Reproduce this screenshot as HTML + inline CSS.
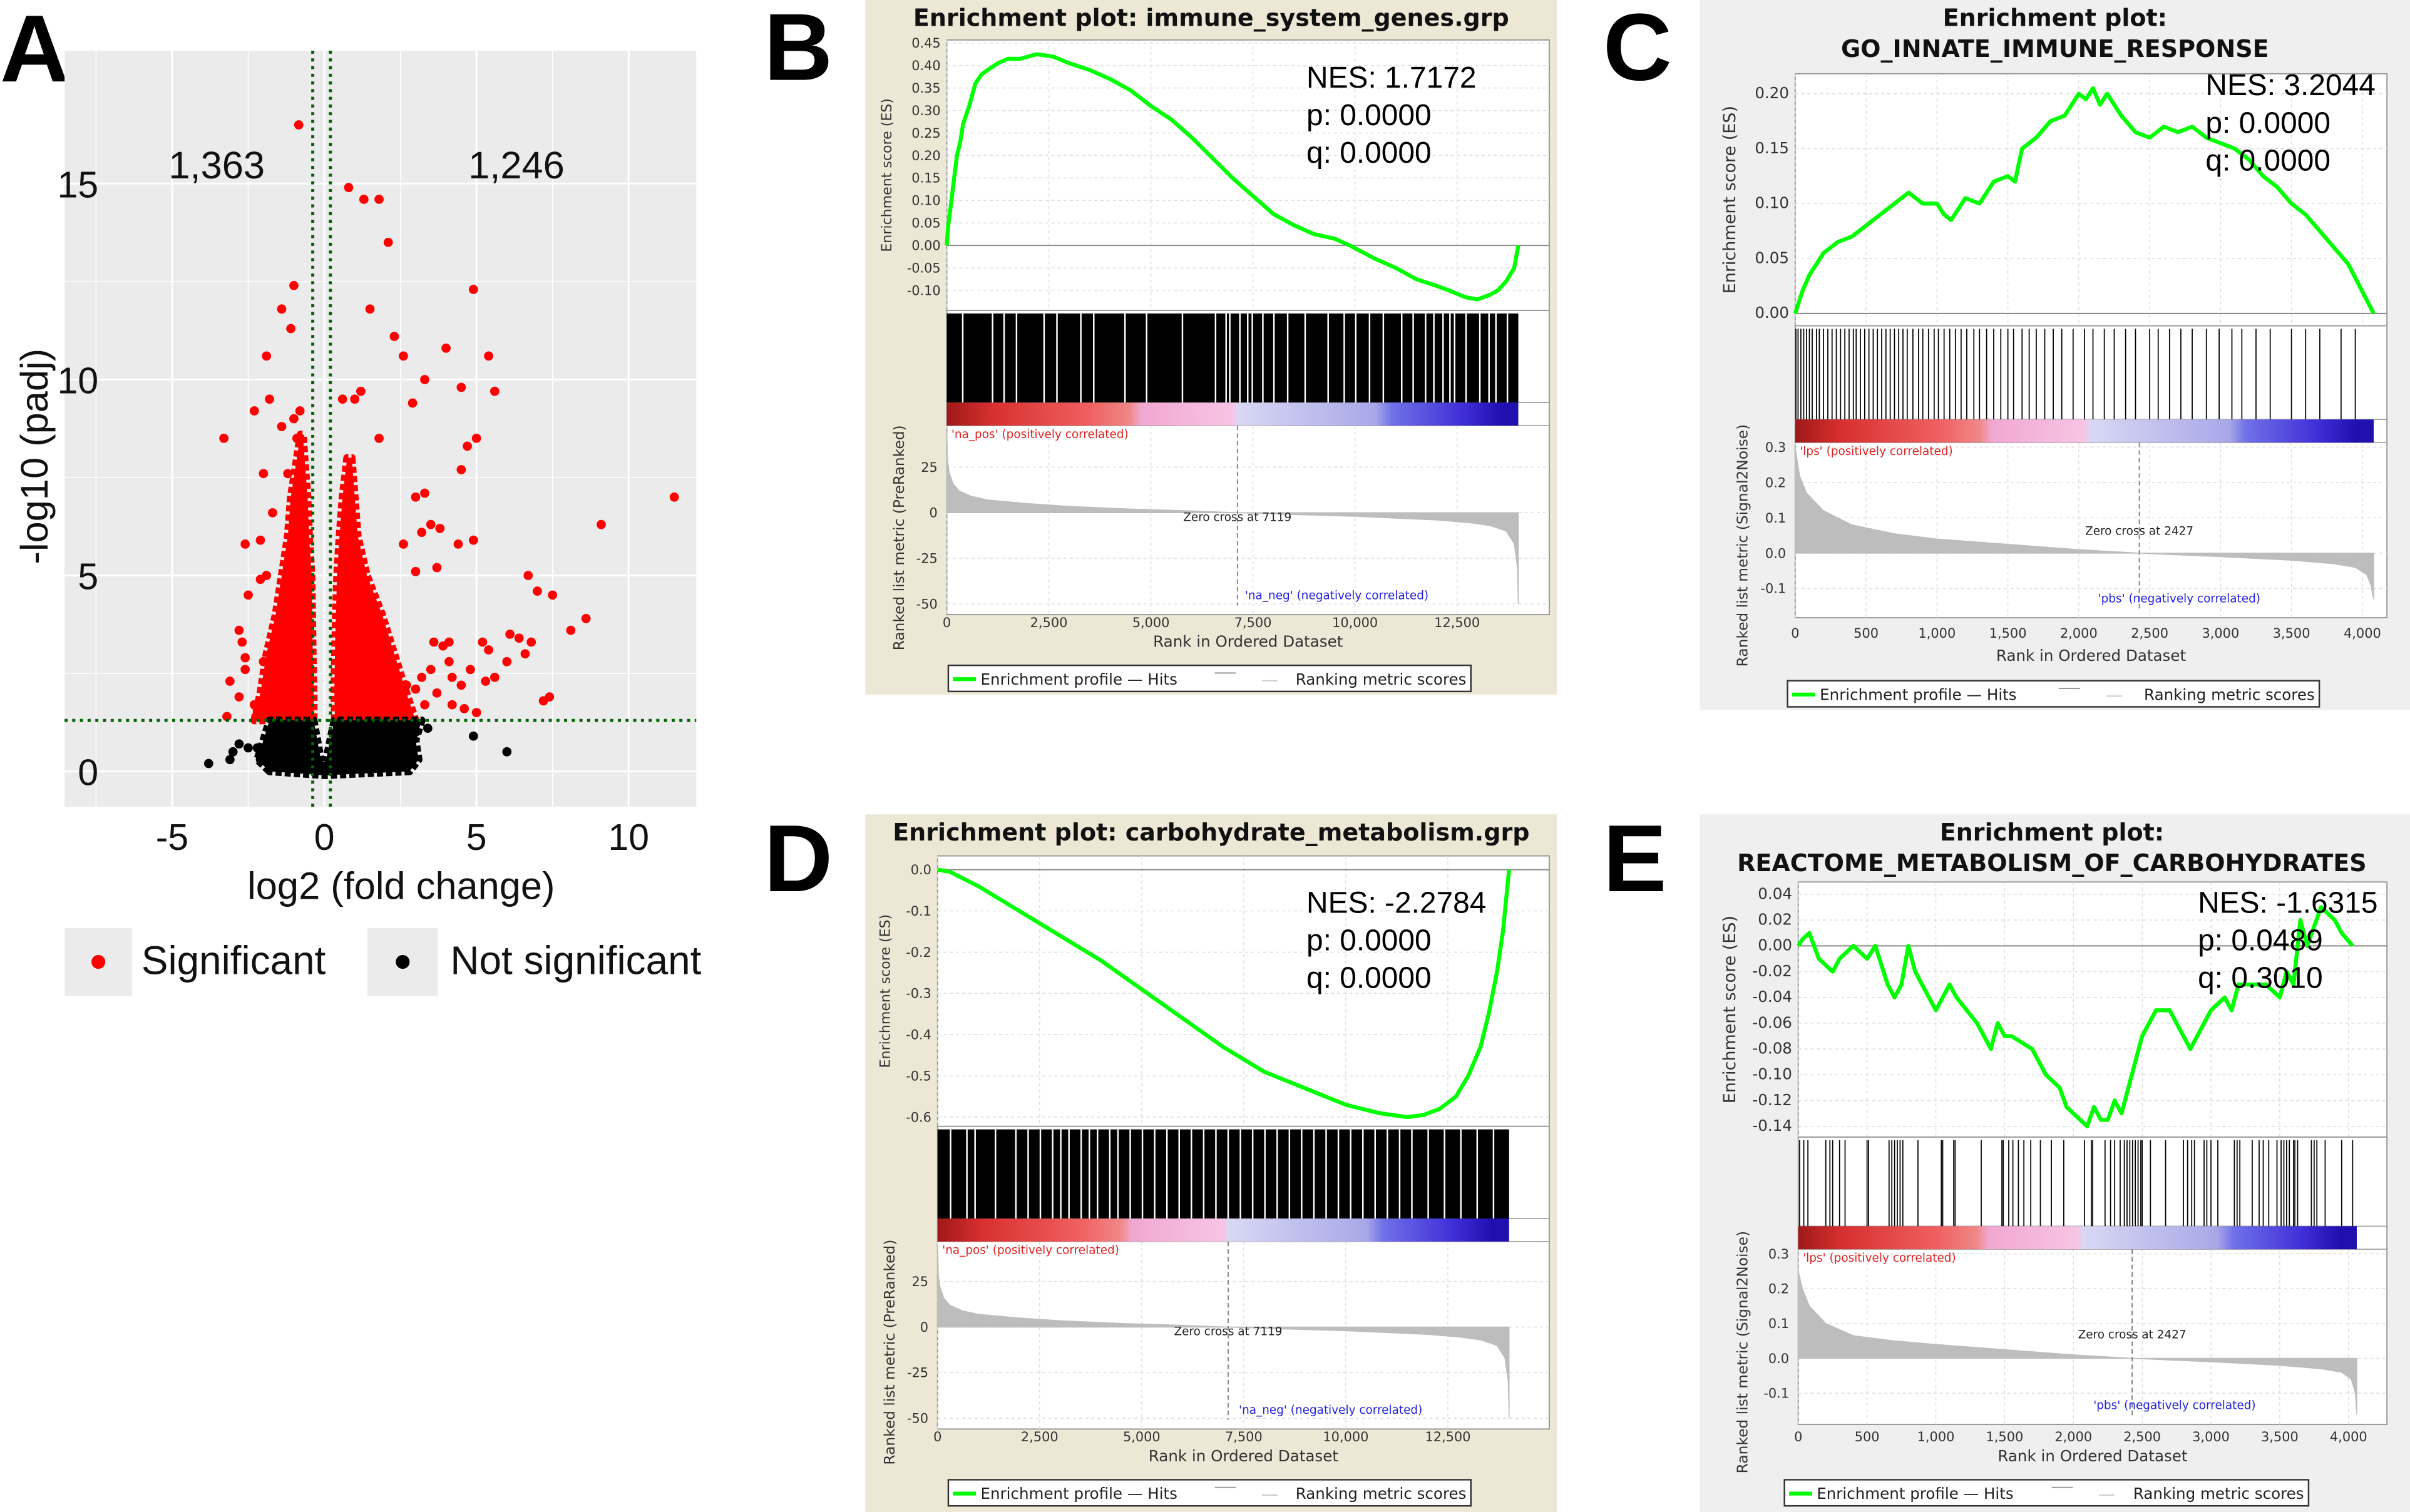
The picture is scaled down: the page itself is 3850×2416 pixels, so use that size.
<!DOCTYPE html>
<html><head><meta charset="utf-8"><style>
html,body{margin:0;padding:0;background:#fff;}
svg{display:block;}
</style></head><body>
<svg id="fig" xmlns="http://www.w3.org/2000/svg" width="3850" height="2416" viewBox="0 0 1568 984" preserveAspectRatio="none">
<defs>
<linearGradient id="cbar" x1="0" x2="1" y1="0" y2="0">
<stop offset="0" stop-color="#a01818"/><stop offset="0.08" stop-color="#d83030"/><stop offset="0.25" stop-color="#f06060"/><stop offset="0.32" stop-color="#f08888"/><stop offset="0.34" stop-color="#f0a8d0"/><stop offset="0.5" stop-color="#f8c4e4"/><stop offset="0.51" stop-color="#d8d8f4"/><stop offset="0.75" stop-color="#a8a8e8"/><stop offset="0.78" stop-color="#7070e8"/><stop offset="0.9" stop-color="#4030d8"/><stop offset="0.97" stop-color="#2010b0"/><stop offset="1" stop-color="#2010b0"/>
</linearGradient>
</defs>
<g id="volcano"></g>
<g id="gsea"></g>
</svg>
<script>
// ---------- Volcano data ----------
const volXTicks=[-5,0,5,10];
const volYTicks=[0,5,10,15];
const volSigX=[-0.84,-1.0,-1.4,-1.1,-1.9,-2.3,-1.8,-0.8,-1.0,-3.3,-1.4,-0.9,-2.0,-1.2,-2.6,-2.1,-1.7,-2.1,-1.9,-2.5,-2.8,-2.7,-2.6,-2.6,-2.0,-3.1,-2.8,-2.3,-3.2,-2.2,-1.7,-1.5,
0.8,1.3,1.8,2.1,4.9,1.5,2.3,4.0,2.6,5.4,3.3,4.5,5.6,2.9,5.0,4.7,1.2,1.0,0.6,1.8,4.5,3.0,3.3,11.5,9.1,3.5,3.8,3.2,4.9,4.4,2.6,3.0,3.7,6.7,7.0,7.5,8.6,8.1,6.1,6.4,6.8,5.2,5.4,6.6,6.0,3.9,4.1,3.6,5.6,5.3,7.4,7.2,4.5,4.8,5.0,4.6,3.7,4.2,3.3,3.0,2.7,3.2,3.5,4.1,4.2];
const volSigY=[16.5,12.4,11.8,11.3,10.6,9.2,9.5,9.2,9.0,8.5,8.8,8.5,7.6,7.6,5.8,5.9,6.6,4.9,5.0,4.5,3.6,3.3,2.9,2.6,2.8,2.3,1.9,1.7,1.4,1.5,1.9,2.1,
14.9,14.6,14.6,13.5,12.3,11.8,11.1,10.8,10.6,10.6,10.0,9.8,9.7,9.4,8.5,8.3,9.7,9.5,9.5,8.5,7.7,7.0,7.1,7.0,6.3,6.3,6.2,6.1,5.9,5.8,5.8,5.1,5.2,5.0,4.6,4.5,3.9,3.6,3.5,3.4,3.3,3.3,3.1,3.0,2.8,3.2,3.3,3.3,2.4,2.3,1.9,1.8,2.2,2.6,1.5,1.6,2.0,1.7,1.7,2.1,2.2,2.4,2.6,2.8,2.4];
const volNsX=[-3.8,-3.1,-2.8,-2.5,-2.2,-3.0,4.9,6.0,3.4,3.0,2.8,-2.1,2.5];
const volNsY=[0.2,0.3,0.7,0.6,0.6,0.5,0.9,0.5,1.1,1.0,0.6,0.3,0.5];
const leftCloudY=[1.3,2,3,4,5,6,7,8,8.6];
const leftCloudMin=[-2.3,-2.1,-1.9,-1.6,-1.4,-1.2,-1.1,-0.9,-0.78];
const leftCloudMax=[-0.35,-0.35,-0.38,-0.4,-0.42,-0.5,-0.55,-0.65,-0.7];
const rightCloudY=[1.3,2,3,4,5,6,7,8];
const rightCloudMin=[0.35,0.33,0.35,0.38,0.42,0.5,0.6,0.75];
const rightCloudMax=[3.0,2.7,2.3,1.9,1.4,1.1,1.0,0.9];
const nsCloudX=[-1.8,-2.2,-2.0,-1.8,-0.35,-0.1,0.05,0.33,3.2,3.0,3.1,2.8,0.0];
const nsCloudY=[0,0.3,0.8,1.3,1.3,0.25,0.25,1.3,1.3,0.8,0.3,0.0,-0.1];

// ---------- GSEA data ----------
const bRank=[0,30,100,180,250,330,400,550,700,850,1000,1250,1500,1800,2200,2600,3000,3500,4000,4500,5000,5500,6000,6500,7000,7500,8000,8500,9000,9500,9870,10500,11000,11500,12000,12300,12700,13000,13300,13500,13700,13900,14000];
const bES=[0,0.04,0.09,0.15,0.2,0.23,0.27,0.31,0.36,0.38,0.39,0.405,0.415,0.415,0.425,0.42,0.405,0.39,0.37,0.345,0.31,0.28,0.24,0.195,0.15,0.11,0.07,0.045,0.025,0.015,0,-0.03,-0.05,-0.075,-0.09,-0.1,-0.115,-0.12,-0.11,-0.1,-0.08,-0.05,0];
const bGaps=[372,1103,1385,1689,2365,2680,3265,3581,4346,4876,5754,6565,6824,6914,7161,7353,7465,7724,7995,8332,8760,9323,9717,9999,10337,10675,11125,11406,11710,11913,12138,12307,12420,12701,13039,13264,13433,13715];
const bMetRank=[0,20,60,150,300,600,1000,2000,3000,4500,6000,7119,8500,10000,11000,12000,12800,13300,13700,13900,13980,14000];
const bMet=[45,28,22,16,12,9,7,5,3.5,2,1,0,-1,-2,-3,-4,-5.5,-7,-10,-17,-30,-50];
const dRank=[0,300,600,1000,1500,2000,3000,4000,5000,6000,7000,8000,9000,10000,10800,11500,11900,12300,12700,13000,13300,13500,13700,13850,14000];
const dES=[0,-0.005,-0.02,-0.04,-0.07,-0.1,-0.16,-0.22,-0.29,-0.36,-0.43,-0.49,-0.53,-0.57,-0.59,-0.6,-0.595,-0.58,-0.55,-0.5,-0.43,-0.35,-0.25,-0.15,0];
const dGaps=[300,700,900,1400,1900,2200,2500,2800,3000,3200,3500,3700,3900,4200,4400,4700,5000,5300,5600,5900,6200,6500,6800,7100,7400,7700,8000,8300,8600,8900,9200,9500,9800,10100,10400,10700,11000,11300,11600,12000,12400,12800,13200,13600];
const cRank=[0,50,100,200,300,400,500,600,700,800,900,1000,1050,1100,1200,1300,1400,1500,1550,1600,1700,1800,1900,2000,2050,2100,2150,2200,2300,2400,2500,2600,2700,2800,2900,3000,3100,3200,3300,3400,3500,3600,3700,3800,3900,4000,4080];
const cES=[0,0.02,0.035,0.055,0.065,0.07,0.08,0.09,0.1,0.11,0.1,0.1,0.09,0.085,0.105,0.1,0.12,0.125,0.12,0.15,0.16,0.175,0.18,0.2,0.195,0.205,0.19,0.2,0.18,0.165,0.16,0.17,0.165,0.17,0.16,0.155,0.15,0.14,0.125,0.115,0.1,0.09,0.075,0.06,0.045,0.02,0];
const cHits=[5,20,40,60,80,100,120,150,170,200,230,260,290,320,350,380,410,430,460,490,520,550,580,610,640,670,700,730,760,790,830,870,900,940,980,1010,1050,1090,1130,1170,1210,1260,1300,1350,1400,1450,1500,1540,1600,1650,1700,1760,1820,1880,1960,2040,2100,2180,2250,2330,2400,2500,2560,2640,2720,2800,2900,2990,3080,3150,3250,3350,3500,3600,3700,3850,3950];
const cMetRank=[0,30,80,200,400,700,1000,1500,2000,2427,3000,3500,3800,3950,4030,4060,4080];
const cMet=[0.3,0.22,0.17,0.12,0.08,0.055,0.04,0.025,0.01,0,-0.01,-0.02,-0.03,-0.04,-0.06,-0.09,-0.13];
const eRank=[0,30,80,150,250,300,400,500,560,650,700,750,800,850,1000,1100,1150,1300,1400,1450,1500,1550,1700,1800,1900,1950,2000,2100,2150,2200,2250,2300,2350,2400,2450,2500,2550,2600,2700,2800,2850,3000,3100,3150,3200,3400,3500,3550,3600,3650,3700,3800,3900,3950,4030];
const eES=[0,0.005,0.01,-0.01,-0.02,-0.01,0.0,-0.01,0.0,-0.03,-0.04,-0.03,0.0,-0.02,-0.05,-0.03,-0.04,-0.06,-0.08,-0.06,-0.07,-0.07,-0.08,-0.1,-0.11,-0.125,-0.13,-0.14,-0.125,-0.135,-0.135,-0.12,-0.13,-0.11,-0.09,-0.07,-0.06,-0.05,-0.05,-0.07,-0.08,-0.05,-0.04,-0.05,-0.03,-0.03,-0.04,-0.02,-0.03,0.02,0.0,0.03,0.02,0.01,0.0];
const eHits=[10,40,70,200,230,250,300,340,500,510,660,680,700,720,740,760,870,1040,1050,1130,1140,1330,1480,1490,1530,1560,1600,1640,1690,1760,1840,1930,2080,2130,2140,2230,2270,2300,2340,2370,2390,2410,2430,2450,2470,2490,2500,2560,2670,2800,2830,2860,2880,2950,2970,3000,3050,3170,3190,3210,3300,3350,3380,3420,3480,3510,3530,3550,3570,3600,3610,3630,3730,3750,3770,3830,3950,4030];
const eMetRank=[0,30,80,200,400,700,1000,1500,2000,2427,3000,3500,3800,3950,4020,4050,4060];
const eMet=[0.25,0.2,0.15,0.1,0.065,0.05,0.04,0.025,0.01,0,-0.01,-0.02,-0.03,-0.04,-0.06,-0.1,-0.16];

const NS='http://www.w3.org/2000/svg';
function mk(tag,attrs,parent,text){const e=document.createElementNS(NS,tag);for(const k in attrs)e.setAttribute(k,attrs[k]);if(text!==undefined)e.textContent=text;parent.appendChild(e);return e;}

// ---------- Volcano ----------
(function(){
const g=document.getElementById('volcano');
const X=v=>211+v*19.8, Y=v=>502-v*25.5;
let t=mk('text',{x:0,y:53,'font-family':'Liberation Sans, sans-serif','font-weight':'bold','font-size':62},g,'A');

let bg=mk('rect',{x:42,y:33,width:411,height:492,fill:'#ebebeb'},g);

[-7.5,-2.5,2.5,7.5].forEach(v=>mk('line',{x1:X(v),x2:X(v),y1:33,y2:525,stroke:'#fff','stroke-width':0.6},g));
[2.5,7.5,12.5].forEach(v=>mk('line',{x1:42,x2:453,y1:Y(v),y2:Y(v),stroke:'#fff','stroke-width':0.6},g));
volXTicks.forEach(v=>{mk('line',{x1:X(v),x2:X(v),y1:33,y2:525,stroke:'#fff','stroke-width':1.2},g);
 const l=mk('text',{x:X(v),y:553,'text-anchor':'middle','font-family':'Liberation Sans, sans-serif','font-size':24,fill:'#111'},g,String(v));
 });
volYTicks.forEach(v=>{mk('line',{x1:42,x2:453,y1:Y(v),y2:Y(v),stroke:'#fff','stroke-width':1.2},g);
 const l=mk('text',{x:64,y:Y(v)+9,'text-anchor':'end','font-family':'Liberation Sans, sans-serif','font-size':24,fill:'#111'},g,String(v));
 });
function cloud(ys,mins,maxs,color,name){const pts=[];ys.forEach((y,i)=>pts.push(X(mins[i])+','+Y(y)));for(let i=ys.length-1;i>=0;i--)pts.push(X(maxs[i])+','+Y(ys[i]));
 const p=mk('polygon',{points:pts.join(' '),fill:color,stroke:color,'stroke-width':5,'stroke-dasharray':'4,2','stroke-linejoin':'round'},g);
 }
cloud(leftCloudY,leftCloudMin,leftCloudMax,'#ff0000','significant-cloud-down');
cloud(rightCloudY,rightCloudMin,rightCloudMax,'#ff0000','significant-cloud-up');
const np=mk('polygon',{points:nsCloudX.map((x,i)=>X(x)+','+Y(nsCloudY[i])).join(' '),fill:'#000',stroke:'#000','stroke-width':5,'stroke-dasharray':'4,2','stroke-linejoin':'round'},g);

volSigX.forEach((x,i)=>{const c=mk('circle',{cx:X(x),cy:Y(volSigY[i]),r:3,fill:'#ff0000'},g);
 });
volNsX.forEach((x,i)=>{const c=mk('circle',{cx:X(x),cy:Y(volNsY[i]),r:3,fill:'#000'},g);
 });
[-0.38,0.2].forEach(v=>{const l=mk('line',{x1:X(v),x2:X(v),y1:33,y2:525,stroke:'#006400','stroke-width':2,'stroke-dasharray':'2,3'},g);
 });
const h=mk('line',{x1:42,x2:453,y1:Y(1.3),y2:Y(1.3),stroke:'#006400','stroke-width':2,'stroke-dasharray':'2,3'},g);

t=mk('text',{x:141,y:116,'text-anchor':'middle','font-family':'Liberation Sans, sans-serif','font-size':25,fill:'#111'},g,'1,363');

t=mk('text',{x:336,y:116,'text-anchor':'middle','font-family':'Liberation Sans, sans-serif','font-size':25,fill:'#111'},g,'1,246');

t=mk('text',{x:261,y:585,'text-anchor':'middle','font-family':'Liberation Sans, sans-serif','font-size':25,fill:'#111'},g,'log2 (fold change)');

t=mk('text',{x:0,y:0,transform:'translate(31,297) rotate(-90)','text-anchor':'middle','font-family':'Liberation Sans, sans-serif','font-size':25,fill:'#111'},g,'-log10 (padj)');

let r=mk('rect',{x:42,y:604,width:44,height:44,fill:'#ebebeb'},g);
mk('circle',{cx:64,cy:626,r:4.5,fill:'#ff0000'},g);
t=mk('text',{x:92,y:634,'font-family':'Liberation Sans, sans-serif','font-size':26,fill:'#111'},g,'Significant');

r=mk('rect',{x:239,y:604,width:46,height:44,fill:'#ebebeb'},g);
mk('circle',{cx:262,cy:626,r:4.5,fill:'#000'},g);
t=mk('text',{x:293,y:634,'font-family':'Liberation Sans, sans-serif','font-size':26,fill:'#111'},g,'Not significant');

})();

// ---------- GSEA panels ----------
function gsea(c){
const root=document.getElementById('gsea');
const g=mk('g',{},root);

const F='DejaVu Sans, Liberation Sans, sans-serif';
let t=mk('text',{x:c.lx,y:c.ly,'font-family':'Liberation Sans, sans-serif','font-weight':'bold','font-size':62},g,c.letter);

const bg=mk('rect',{x:c.bx,y:c.by,width:c.bw,height:c.bh,fill:c.bgc},g);

c.title.forEach((s,i)=>{const tt=mk('text',{x:c.tx,y:c.ty+i*20,'text-anchor':'middle','font-family':F,'font-weight':'bold','font-size':15.5,fill:'#111'},g,s);
 });
const X=r=>c.x0+r*c.kx;
const esY=v=>c.esA[1]+(v-c.esA[0])*(c.esB[1]-c.esA[1])/(c.esB[0]-c.esA[0]);
const mY=v=>c.mA[1]+(v-c.mA[0])*(c.mB[1]-c.mA[1])/(c.mB[0]-c.mA[0]);
mk('rect',{x:c.x0,y:c.esTop,width:c.right-c.x0,height:c.mBot-c.esTop,fill:'#fff',stroke:'#999','stroke-width':0.8},g);
c.xTicks.forEach(v=>{mk('line',{x1:X(v),x2:X(v),y1:c.esTop,y2:c.esBot,stroke:'#ddd','stroke-width':0.6,'stroke-dasharray':'2,2'},g);
 mk('line',{x1:X(v),x2:X(v),y1:c.barBot,y2:c.mBot,stroke:'#ddd','stroke-width':0.6,'stroke-dasharray':'2,2'},g);
 const l=mk('text',{x:X(v),y:c.xLabY,'text-anchor':'middle','font-family':F,'font-size':8.5,fill:'#333'},g,v.toLocaleString('en-US'));
 });
c.esTicks.forEach(v=>{mk('line',{x1:c.x0,x2:c.right,y1:esY(v),y2:esY(v),stroke:'#ddd','stroke-width':0.6,'stroke-dasharray':'2,2'},g);
 const l=mk('text',{x:c.x0-4,y:esY(v)+3,'text-anchor':'end','font-family':F,'font-size':c.esFs,fill:'#333'},g,v.toFixed(c.esDec));
 });
c.mTicks.forEach(v=>{mk('line',{x1:c.x0,x2:c.right,y1:mY(v),y2:mY(v),stroke:'#ddd','stroke-width':0.6,'stroke-dasharray':'2,2'},g);
 const l=mk('text',{x:c.x0-6,y:mY(v)+3,'text-anchor':'end','font-family':F,'font-size':8.5,fill:'#333'},g,c.mDec?v.toFixed(1):String(v));
 });
mk('line',{x1:c.x0,x2:c.right,y1:esY(0),y2:esY(0),stroke:'#888','stroke-width':0.8},g);
mk('line',{x1:c.x0,x2:c.right,y1:c.esBot,y2:c.esBot,stroke:'#999','stroke-width':0.8},g);
mk('line',{x1:c.x0,x2:c.right,y1:c.barTop,y2:c.barTop,stroke:'#999','stroke-width':0.6},g);
mk('line',{x1:c.x0,x2:c.right,y1:c.barBot,y2:c.barBot,stroke:'#999','stroke-width':0.6},g);
if(c.gaps){const hb=mk('rect',{x:X(0),y:c.esBot+2,width:X(c.maxRank)-X(0),height:c.barTop-c.esBot-2,fill:'#000'},g);
 
 c.gaps.forEach(r=>{const l=mk('rect',{x:X(r),y:c.esBot+2,width:c.gapW,height:c.barTop-c.esBot-2,fill:'#fff'},g);
  });}
if(c.hits){c.hits.forEach(r=>{const l=mk('line',{x1:X(r),x2:X(r),y1:c.esBot+2,y2:c.barTop,stroke:'#000','stroke-width':0.7},g);
  });}
const cb=mk('rect',{x:X(0),y:c.barTop,width:X(c.maxRank)-X(0),height:c.barBot-c.barTop,fill:'url(#cbar)'},g);

let d='M'+X(c.mRank[0])+','+mY(0);c.mRank.forEach((r,i)=>d+=' L'+X(r)+','+mY(c.mVal[i]));d+=' L'+X(c.mRank[c.mRank.length-1])+','+mY(0)+' Z';
const ma=mk('path',{d:d,fill:'#bdbdbd',stroke:'#bdbdbd','stroke-width':0.6},g);

const zl=mk('line',{x1:X(c.zero),x2:X(c.zero),y1:c.barBot,y2:c.mBot-6,stroke:'#777','stroke-width':0.7,'stroke-dasharray':'3,2'},g);

t=mk('text',{x:X(c.zero),y:c.zeroY,'text-anchor':'middle','font-family':F,'font-size':7.5,fill:'#222'},g,'Zero cross at '+c.zero);

t=mk('text',{x:c.x0+3,y:c.barBot+8,'font-family':F,'font-size':7.5,fill:'#e02020'},g,c.pos);

t=mk('text',{x:c.negX,y:c.mBot-10,'font-family':F,'font-size':7.5,fill:'#2020e0'},g,c.neg);

const pl=mk('polyline',{points:c.esRank.map((r,i)=>X(r)+','+esY(c.esVal[i])).join(' '),fill:'none',stroke:'#00ff00','stroke-width':2.6,'stroke-linejoin':'round'},g);

c.stats.forEach((s,i)=>{const tt=mk('text',{x:c.sx,y:c.sy+i*24.5,'font-family':'Liberation Sans, sans-serif','font-size':19.5,fill:'#000'},g,s);
 });
t=mk('text',{x:(c.x0+c.right)/2,y:c.xTitY,'text-anchor':'middle','font-family':F,'font-size':10,fill:'#333'},g,'Rank in Ordered Dataset');

t=mk('text',{x:0,y:0,transform:'translate('+c.esTitX+','+(c.esTop+c.esBot)/2+') rotate(-90)','text-anchor':'middle','font-family':F,'font-size':c.esTitFs,fill:'#333'},g,'Enrichment score (ES)');

t=mk('text',{x:0,y:0,transform:'translate('+c.mTitX+','+c.mTitY+') rotate(-90)','text-anchor':'middle','font-family':F,'font-size':9.5,fill:'#333'},g,c.mTitle);

const lg=mk('g',{},g);
mk('rect',{x:c.legX,y:c.legY,width:c.legW,height:17,fill:'#fff',stroke:'#333','stroke-width':1},lg);
mk('line',{x1:c.legX+3,x2:c.legX+18,y1:c.legY+9,y2:c.legY+9,stroke:'#00ff00','stroke-width':2.5},lg);
t=mk('text',{x:c.legX+21,y:c.legY+12.5,'font-family':F,'font-size':10,fill:'#222'},lg,'Enrichment profile \u2014 Hits');

mk('line',{x1:c.legX+c.legW*0.51,x2:c.legX+c.legW*0.55,y1:c.legY+5,y2:c.legY+5,stroke:'#999','stroke-width':0.8},lg);
mk('line',{x1:c.legX+c.legW*0.6,x2:c.legX+c.legW*0.63,y1:c.legY+10,y2:c.legY+10,stroke:'#ccc','stroke-width':0.8},lg);
t=mk('text',{x:c.legX+c.legW-3,y:c.legY+12.5,'text-anchor':'end','font-family':F,'font-size':10,fill:'#222'},lg,'Ranking metric scores');

}
const stepTicks=(a,b,s)=>{const o=[];for(let v=a;v<=b+1e-9;v+=s)o.push(Math.round(v*1000)/1000);return o;};
const commonB={x0:616,kx:(948-616)/12500,right:1008,maxRank:14000,gapW:1,xTicks:[0,2500,5000,7500,10000,12500],esFs:8.5,esDec:2,esTitFs:9,mTicks:[25,0,-25,-50],mDec:false,zero:7119,pos:"'na_pos' (positively correlated)",neg:"'na_neg' (negatively correlated)",mTitle:'Ranked list metric (PreRanked)'};
gsea(Object.assign({},commonB,{name:'gsea-immune-system',letter:'B',lx:497,ly:52,bx:563,by:0,bw:450,bh:452,bgc:'#ede8d6',title:['Enrichment plot: immune_system_genes.grp'],tx:788,ty:17,
 esTop:26,esBot:202,esA:[0.45,28],esB:[-0.10,189],esTicks:stepTicks(-0.10,0.45,0.05),barTop:262,barBot:277,mA:[25,304],mB:[-50,393],mBot:400,
 gaps:bGaps,hits:null,mRank:bMetRank,mVal:bMet,zeroY:339,negX:810,esRank:bRank,esVal:bES,stats:['NES: 1.7172','p: 0.0000','q: 0.0000'],sx:850,sy:57,
 xLabY:408,xTitY:421,esTitX:580,mTitX:588,mTitY:350,legX:617,legY:433,legW:340}));
gsea(Object.assign({},commonB,{name:'gsea-carbohydrate-metabolism',letter:'D',lx:497,ly:580,bx:563,by:530,bw:450,bh:454,bgc:'#ede8d6',title:['Enrichment plot: carbohydrate_metabolism.grp'],tx:788,ty:547,x0:610,kx:(942-610)/12500,right:1008,
 esTop:557,esBot:733,esA:[0.0,566],esB:[-0.6,727],esTicks:stepTicks(-0.6,0.0,0.1).reverse(),esDec:1,barTop:793,barBot:808,mA:[25,834],mB:[-50,923],mBot:930,
 gaps:dGaps,hits:null,mRank:bMetRank,mVal:bMet,zeroY:869,negX:806,esRank:dRank,esVal:dES,stats:['NES: -2.2784','p: 0.0000','q: 0.0000'],sx:850,sy:594,
 xLabY:938,xTitY:951,esTitX:579,mTitX:582,mTitY:880,legX:617,legY:963,legW:340}));
const commonC={kx:(1537-1168)/4000,right:1553,maxRank:4080,xTicks:[0,500,1000,1500,2000,2500,3000,3500,4000],esDec:2,mTicks:[0.3,0.2,0.1,0.0,-0.1],mDec:true,zero:2427,pos:"'lps' (positively correlated)",neg:"'pbs' (negatively correlated)",mTitle:'Ranked list metric (Signal2Noise)',esTitFs:11,bgc:'#efefef'};
gsea(Object.assign({},commonC,{name:'gsea-innate-immune-response',letter:'C',lx:1043,ly:52,bx:1106,by:0,bw:462,bh:462,title:['Enrichment plot:','GO_INNATE_IMMUNE_RESPONSE'],tx:1337,ty:17,x0:1168,
 esTop:48,esBot:212,esA:[0.20,61],esB:[0.0,204],esTicks:stepTicks(0,0.2,0.05),esFs:10,barTop:273,barBot:288,mA:[0.3,291],mB:[0.0,360],mBot:402,
 gaps:null,hits:cHits,mRank:cMetRank,mVal:cMet,zeroY:348,negX:1365,esRank:cRank,esVal:cES,stats:['NES: 3.2044','p: 0.0000','q: 0.0000'],sx:1435,sy:62,
 xLabY:415,xTitY:430,esTitX:1129,mTitX:1137,mTitY:355,legX:1163,legY:443,legW:346}));
gsea(Object.assign({},commonC,{name:'gsea-reactome-carbohydrates',letter:'E',lx:1043,ly:580,bx:1106,by:530,bw:462,bh:454,title:['Enrichment plot:','REACTOME_METABOLISM_OF_CARBOHYDRATES'],tx:1335,ty:547,x0:1170,kx:(1528-1170)/4000,maxRank:4060,
 esTop:574,esBot:740,esA:[0.04,582],esB:[-0.14,733],esTicks:stepTicks(-0.14,0.04,0.02),esFs:10,barTop:798,barBot:813,mA:[0.3,816],mB:[0.0,884],mBot:927,
 gaps:null,hits:eHits,mRank:eMetRank,mVal:eMet,zeroY:871,negX:1362,esRank:eRank,esVal:eES,stats:['NES: -1.6315','p: 0.0489','q: 0.3010'],sx:1430,sy:594,
 xLabY:938,xTitY:951,esTitX:1129,mTitX:1137,mTitY:880,legX:1161,legY:963,legW:341}));
</script>
</body></html>
